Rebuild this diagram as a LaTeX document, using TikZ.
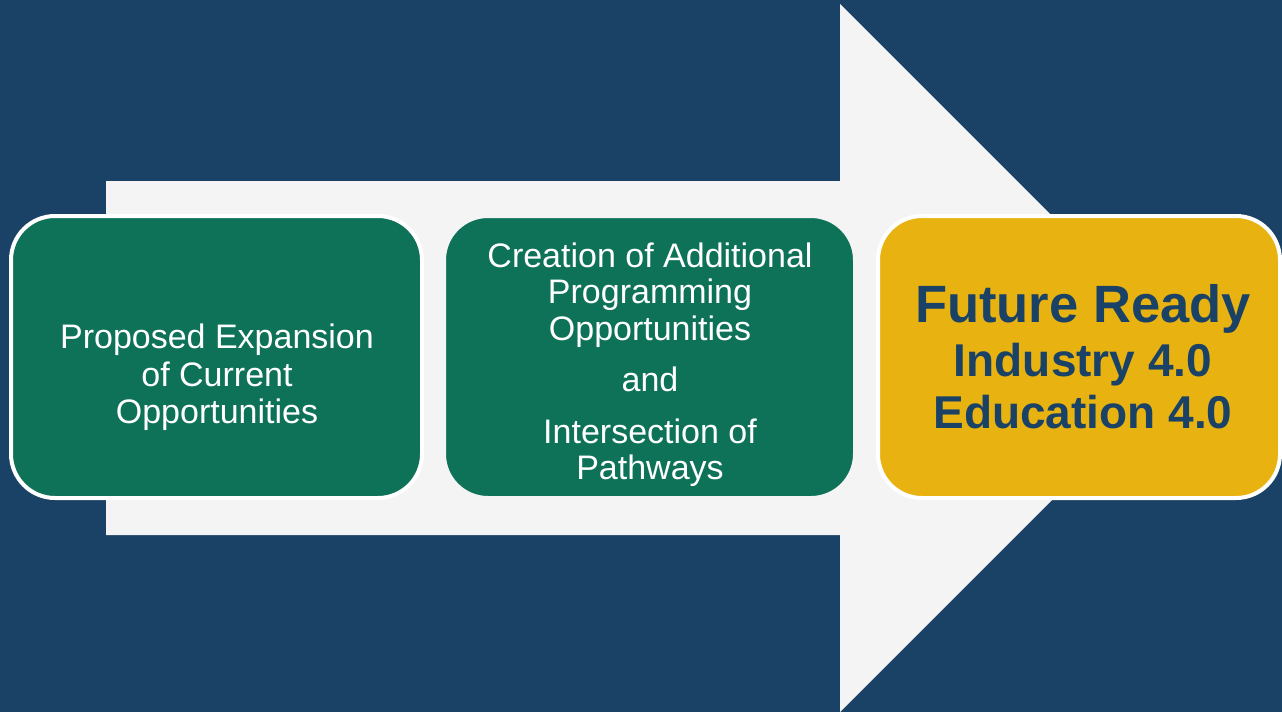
\documentclass[tikz,border=0pt]{standalone}
\usepackage{fontspec}
\setmainfont{Liberation Sans}
\definecolor{bgblue}{HTML}{1A4266}
\definecolor{boxgreen}{HTML}{0E7259}
\definecolor{boxyellow}{HTML}{E8B311}
\definecolor{arrowgray}{HTML}{F4F4F4}
\begin{document}
\begin{tikzpicture}[x=1pt,y=-1pt,
  stagebox/.style={draw=white, line width=4pt, rounded corners=44pt, inner sep=0pt},
  plaintext/.style={text=white, font=\fontsize{34}{38}\selectfont, anchor=base, inner sep=0pt},
  bigbold/.style={text=bgblue, font=\bfseries\fontsize{52.5}{56}\selectfont, anchor=base, inner sep=0pt},
  midbold/.style={text=bgblue, font=\bfseries\fontsize{46}{52}\selectfont, anchor=base, inner sep=0pt}]
\fill[bgblue] (0,0) rectangle (1282,712);
\useasboundingbox (0,0) rectangle (1282,712);
% big arrow
\fill[arrowgray] (106,181) -- (840,181) -- (840,4) -- (1194,358) -- (840,712) -- (840,535) -- (106,535) -- cycle;
% boxes
\node[stagebox, fill=boxgreen, minimum width=411pt, minimum height=282pt] (b1) at (216.5,357) {};
\node[stagebox, fill=boxgreen, draw=arrowgray, minimum width=411pt, minimum height=282pt] (b2) at (649.5,357) {};
\node[stagebox, fill=boxyellow, minimum width=402pt, minimum height=282pt] (b3) at (1079,357) {};
% texts box 1
\node[plaintext] (t1a) at (217,348) {Proposed Expansion};
\node[plaintext] (t1b) at (217,386) {of Current};
\node[plaintext] (t1c) at (217,423) {Opportunities};
% texts box 2
\node[plaintext] (t2a) at (650,267) {Creation of Additional};
\node[plaintext] (t2b) at (650,303) {Programming};
\node[plaintext] (t2c) at (650,340) {Opportunities};
\node[plaintext] (t2d) at (650,391) {and};
\node[plaintext] (t2e) at (650,443) {Intersection of};
\node[plaintext] (t2f) at (650,479) {Pathways};
% texts box 3
\node[bigbold] (t3a) at (1083,322) {Future Ready};
\node[midbold] (t3b) at (1083,376) {Industry 4.0};
\node[midbold] (t3c) at (1083,428) {Education 4.0};
\end{tikzpicture}
\end{document}
